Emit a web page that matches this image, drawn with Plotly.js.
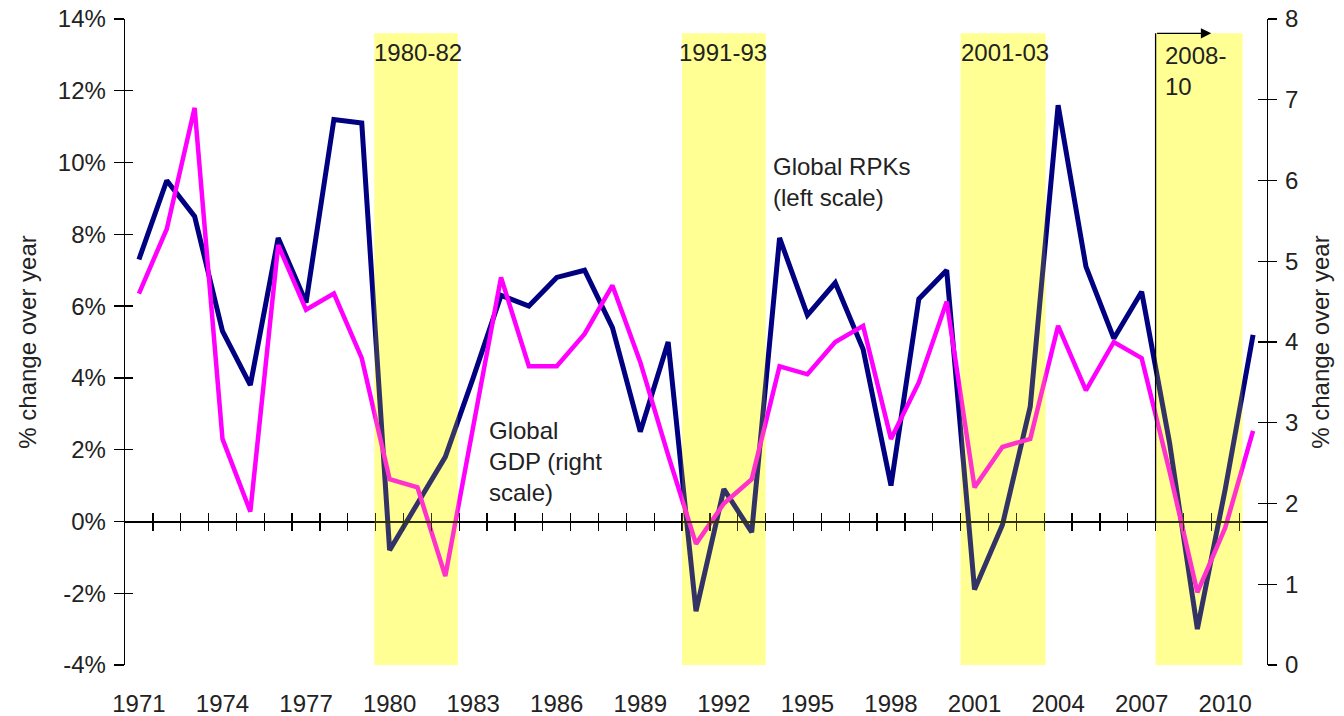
<!DOCTYPE html>
<html>
<head>
<meta charset="utf-8">
<script src="https://cdn.plot.ly/plotly-3.0.1.min.js"></script>
<style>html,body{margin:0;padding:0;background:#fff;}#chart{width:1344px;height:716px;}</style>
</head>
<body>
<div id="chart"></div>
<script>
// Years (categories)
const years = [1971,1972,1973,1974,1975,1976,1977,1978,1979,1980,
               1981,1982,1983,1984,1985,1986,1987,1988,1989,1990,
               1991,1992,1993,1994,1995,1996,1997,1998,1999,2000,
               2001,2002,2003,2004,2005,2006,2007,2008,2009,2010,
               2011];
// Global RPKs, % change over year (left scale)
const rpkGrowth = [7.3, 9.5, 8.5, 5.3, 3.8, 7.9, 6.1, 11.2, 11.1, -0.8,
                   0.5, 1.8, 4.0, 6.3, 6.0, 6.8, 7.0, 5.4, 2.5, 5.0,
                   -2.5, 0.9, -0.3, 7.9, 5.75, 6.65, 4.8, 1.0, 6.2, 7.0,
                   -1.9, -0.1, 3.2, 11.6, 7.1, 5.1, 6.4, 2.2, -3.0, 0.9,
                   5.2];
// Global GDP, % change over year (right scale)
const gdpGrowth = [4.6, 5.4, 6.9, 2.8, 1.9, 5.2, 4.4, 4.6, 3.8, 2.3,
                   2.2, 1.1, 2.95, 4.8, 3.7, 3.7, 4.1, 4.7, 3.75, 2.6,
                   1.5, 2.0, 2.3, 3.7, 3.6, 4.0, 4.2, 2.8, 3.5, 4.5,
                   2.2, 2.7, 2.8, 4.2, 3.4, 4.0, 3.8, 2.4, 0.9, 1.7,
                   2.9];
// Recession periods (shaded)
const recessionLabels = ['1980-82', '1991-93', '2001-03', '2008-<br>10'];
const recessionStart = [1979.45, 1990.5, 2000.5, 2007.5];
const recessionEnd   = [1982.45, 1993.5, 2003.55, 2010.62];
const recessionTop = 13.6;
// Axis ticks
const xTickVals = [1971,1974,1977,1980,1983,1986,1989,1992,1995,1998,2001,2004,2007,2010];
const xTickText = xTickVals.map(String);
const xMinorTicks = [1971.5,1972.5,1973.5,1974.5,1975.5,1976.5,1977.5,1978.5,1979.5,1980.5,
                     1981.5,1982.5,1983.5,1984.5,1985.5,1986.5,1987.5,1988.5,1989.5,1990.5,
                     1991.5,1992.5,1993.5,1994.5,1995.5,1996.5,1997.5,1998.5,1999.5,2000.5,
                     2001.5,2002.5,2003.5,2004.5,2005.5,2006.5,2007.5,2008.5,2009.5,2010.5];
const leftTickVals = [-4,-2,0,2,4,6,8,10,12,14];
const leftTickText = ['-4%','-2%','0%','2%','4%','6%','8%','10%','12%','14%'];
const rightTickVals = [0,1,2,3,4,5,6,7,8];
const rightTickText = ['0','1','2','3','4','5','6','7','8'];

const FONT = 'Liberation Sans, Arial, sans-serif';
const TXT = '#222222';
const XR = [1970.5, 2011.5];
const YL = [-4, 14];
const YR = [0, 8];

const traces = [
  {x: years, y: rpkGrowth, xaxis: 'x', yaxis: 'y', type: 'scatter', mode: 'lines',
   line: {color: '#000080', width: 5}, hoverinfo: 'x+y'},
  {x: years, y: gdpGrowth, xaxis: 'x', yaxis: 'y2', type: 'scatter', mode: 'lines',
   line: {color: '#ff00ff', width: 4.5}, hoverinfo: 'x+y'},
  {x: [], y: [], xaxis: 'x2', yaxis: 'y3', type: 'scatter', mode: 'lines', hoverinfo: 'skip'},
  {x: [], y: [], xaxis: 'x3', yaxis: 'y4', type: 'scatter', mode: 'lines', hoverinfo: 'skip'}
];

const shapes = [];
for (let i = 0; i < recessionStart.length; i++) {
  shapes.push({type: 'rect', xref: 'x', yref: 'y', layer: 'below',
    x0: recessionStart[i], x1: recessionEnd[i], y0: YL[0], y1: recessionTop,
    fillcolor: 'rgba(255,255,0,0.28)', line: {width: 0}});
  shapes.push({type: 'rect', xref: 'x', yref: 'y', layer: 'above',
    x0: recessionStart[i], x1: recessionEnd[i], y0: YL[0], y1: recessionTop,
    fillcolor: 'rgba(255,255,0,0.2)', line: {width: 0}});
}
// vertical part of the 2008-10 arrow
shapes.push({type: 'line', xref: 'x', yref: 'y', layer: 'above',
  x0: recessionStart[3], x1: recessionStart[3], y0: 0, y1: recessionTop,
  line: {color: '#000', width: 1.3}});

const labelX = [1979.38, 1990.31, 2000.43, 2007.76];
const labelY = [13.08, 13.08, 13.08, 12.56];
const annotations = recessionLabels.map((t, i) => ({
  text: t, x: labelX[i], y: labelY[i], xref: 'x', yref: 'y',
  xanchor: 'left', yanchor: 'middle', align: 'left', showarrow: false,
  font: {family: FONT, size: 24, color: TXT}
}));
annotations.push({text: '', x: 2009.5, y: recessionTop, xref: 'x', yref: 'y',
  ax: recessionStart[3], ay: recessionTop, axref: 'x', ayref: 'y',
  showarrow: true, arrowhead: 2, arrowsize: 1.6, arrowwidth: 1.3, arrowcolor: '#000'});
annotations.push({text: 'Global RPKs<br>(left scale)', x: 1993.7, y: 9.46, xref: 'x', yref: 'y',
  xanchor: 'left', yanchor: 'middle', align: 'left', showarrow: false,
  font: {family: FONT, size: 24, color: TXT}});
annotations.push({text: 'Global<br>GDP (right<br>scale)', x: 1983.5, y: 1.66, xref: 'x', yref: 'y',
  xanchor: 'left', yanchor: 'middle', align: 'left', showarrow: false,
  font: {family: FONT, size: 24, color: TXT}});

const tickFont = {family: FONT, size: 24, color: TXT};
const layout = {
  width: 1344, height: 716,
  margin: {l: 125, r: 77, t: 19, b: 51},
  paper_bgcolor: '#fff', plot_bgcolor: '#fff',
  showlegend: false,
  font: {family: FONT, size: 24, color: TXT},
  xaxis: {range: XR, tickmode: 'array', tickvals: xTickVals, ticktext: xTickText,
    ticks: '', showline: false, showgrid: false, zeroline: false,
    tickfont: tickFont, ticklabelstandoff: 22},
  xaxis2: {overlaying: 'x', anchor: 'free', position: 4/18, side: 'bottom', range: XR,
    tickmode: 'array', tickvals: xMinorTicks, ticks: 'outside', ticklen: 8, tickwidth: 1.3, tickcolor: '#000',
    showline: true, linecolor: '#000', linewidth: 1.3, showticklabels: false, showgrid: false, zeroline: false},
  xaxis3: {overlaying: 'x', anchor: 'free', position: 4/18, side: 'bottom', range: XR,
    tickmode: 'array', tickvals: xMinorTicks, ticks: 'inside', ticklen: 8, tickwidth: 1.3, tickcolor: '#000',
    showline: false, showticklabels: false, showgrid: false, zeroline: false},
  yaxis: {range: YL, tickmode: 'array', tickvals: leftTickVals, ticktext: leftTickText,
    ticks: 'outside', ticklen: 10, tickwidth: 1.3, tickcolor: '#000',
    showline: true, linecolor: '#000', linewidth: 1.3, showgrid: false, zeroline: false,
    tickfont: tickFont, ticklabelstandoff: 3,
    title: {text: '% change over year', font: {family: FONT, size: 24, color: TXT}, standoff: 14}},
  yaxis3: {overlaying: 'y', anchor: 'x', side: 'left', range: YL, tickmode: 'array', tickvals: leftTickVals,
    ticks: 'inside', ticklen: 8, tickwidth: 1.3, tickcolor: '#000',
    showline: false, showticklabels: false, showgrid: false, zeroline: false},
  yaxis2: {overlaying: 'y', anchor: 'x', side: 'right', range: YR, tickmode: 'array',
    tickvals: rightTickVals, ticktext: rightTickText,
    ticks: 'outside', ticklen: 9, tickwidth: 1.3, tickcolor: '#000',
    showline: true, linecolor: '#000', linewidth: 1.3, showgrid: false, zeroline: false,
    tickfont: tickFont, ticklabelstandoff: 3,
    title: {text: '% change over year', font: {family: FONT, size: 24, color: TXT}, standoff: 14}},
  yaxis4: {overlaying: 'y', anchor: 'x', side: 'right', range: YR, tickmode: 'array', tickvals: rightTickVals,
    ticks: 'inside', ticklen: 9, tickwidth: 1.3, tickcolor: '#000',
    showline: false, showticklabels: false, showgrid: false, zeroline: false},
  shapes: shapes,
  annotations: annotations
};

Plotly.newPlot('chart', traces, layout, {displayModeBar: false, staticPlot: true});
</script>
</body>
</html>
